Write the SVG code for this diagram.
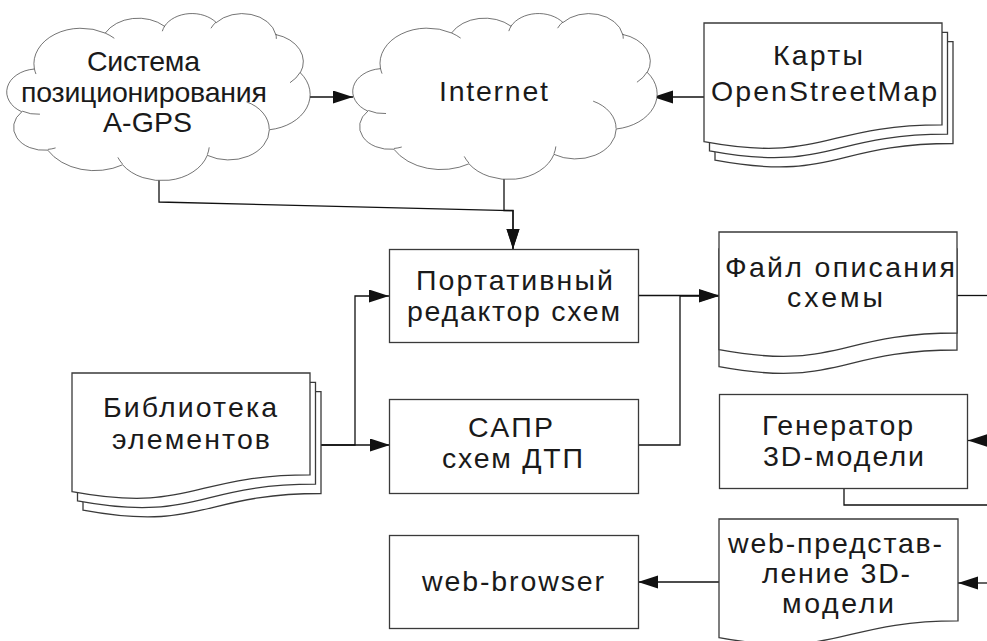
<svg xmlns="http://www.w3.org/2000/svg" xmlns:xlink="http://www.w3.org/1999/xlink" width="987" height="641" viewBox="0 0 987 641">
  <style>
    .shape { fill: #ffffff; stroke: #3a3a3a; stroke-width: 1.3; }
    .inner { fill: none; stroke: #3a3a3a; stroke-width: 1.3; }
    .cloud path { vector-effect: non-scaling-stroke; }
    .link { fill: none; stroke: #111111; stroke-width: 1.3; }
    .arrow { marker-end: url(#head); }
    text { font-family: "Liberation Sans", Arial, sans-serif; font-size: 28.5px; fill: #1a1a1a; text-anchor: middle; }
  </style>
  <defs>
    <marker id="head" markerUnits="userSpaceOnUse" markerWidth="21" markerHeight="14" refX="20" refY="6.5" orient="auto">
      <path d="M0,0 L20,6.5 L0,13 Z" fill="#111111"/>
    </marker>
    <!-- cloud outline on a 432 x 432 grid -->
    <path id="cloud-outline" d="M39.00,143.70 A67.53,91.90 0 0 1 140.05,52.03 A53.33,72.67 0 0 1 224.57,34.31 A43.65,59.45 0 0 1 298.35,24.80 A48.57,65.95 0 0 1 383.19,55.76 A53.33,72.73 0 0 1 418.20,154.60 A67.75,92.20 0 0 1 374.05,302.03 A57.85,78.67 0 0 1 285.56,368.13 A67.52,92.15 0 0 1 164.82,392.67 A77.20,105.43 0 0 1 58.05,354.72 A43.60,59.18 0 0 1 21.14,255.50 A43.45,59.45 0 0 1 38.62,145.05 Z"/>
    <path id="cloud-creases" d="M46.93,261.77 A43.45,59.45 0 0 1 21.61,253.81 M69.28,348.99 A43.60,59.18 0 0 1 58.20,352.80 M164.78,390.90 A67.52,92.15 0 0 1 158.09,373.47 M288.27,347.51 A67.52,92.15 0 0 1 285.61,366.60 M341.29,229.54 A57.85,78.67 0 0 1 373.81,300.90 M417.98,153.54 A53.33,72.73 0 0 1 403.50,180.30 M383.24,54.26 A48.57,65.95 0 0 1 384.00,66.90 M290.78,39.52 A48.57,65.95 0 0 1 298.21,23.38 M221.41,47.20 A43.65,59.45 0 0 1 225.00,33.31 M140.00,51.92 A67.53,91.90 0 0 1 152.99,65.40 M41.27,157.89 A67.53,91.90 0 0 1 39.00,143.71"/>
  </defs>

  <!-- connectors -->
  <g id="connectors">
    <path class="link arrow" d="M310,97 H353"/>
    <path class="link arrow" d="M704,97 H653"/>
    <path class="link arrow" d="M159,180 V202 L513,210.7 V249"/>
    <path class="link arrow" d="M504,178 V210.5 H513 V249"/>
    <path class="link arrow" d="M321,445 H355 V296 H389"/>
    <path class="link arrow" d="M321,445 H390"/>
    <path class="link arrow" d="M638,295.5 H719"/>
    <path class="link arrow" d="M638,445 H680 V296 H719"/>
    <path class="link" d="M957,295.5 H987"/>
    <path class="link arrow" d="M987,440.5 H968"/>
    <path class="link" d="M844,488 V505 H987"/>
    <path class="link arrow" d="M987,583 H958"/>
    <path class="link arrow" d="M719,582 H638"/>
  </g>

  <!-- cloud: positioning system -->
  <g id="agps" class="cloud">
    <g transform="translate(7,13) scale(0.7014,0.3866)">
      <use xlink:href="#cloud-outline" class="shape"/>
      <use xlink:href="#cloud-creases" class="inner"/>
    </g>
    <text x="143.5" y="71" textLength="113" lengthAdjust="spacing">Система</text>
    <text x="144" y="101.5" textLength="246" lengthAdjust="spacing">позиционирования</text>
    <text x="147.5" y="132" textLength="89" lengthAdjust="spacing">A-GPS</text>
  </g>

  <!-- cloud: internet -->
  <g id="internet" class="cloud">
    <g transform="translate(353,13) scale(0.7037,0.3840)">
      <use xlink:href="#cloud-outline" class="shape"/>
      <use xlink:href="#cloud-creases" class="inner"/>
    </g>
    <text x="493.5" y="101" textLength="109" lengthAdjust="spacing">Internet</text>
  </g>

  <!-- stacked documents: OpenStreetMap maps -->
  <g id="osm-maps">
    <path class="shape" d="M715,41.6 H953 V143.5 C834,143.5 834,182.2 715,160.2 Z"/>
    <path class="shape" d="M709.5,32.3 H947.5 V134.2 C828.5,134.2 828.5,172.9 709.5,150.9 Z"/>
    <path class="shape" d="M704,23 H942 V124.9 C823,124.9 823,163.6 704,141.6 Z"/>
    <text x="818" y="65" textLength="90" lengthAdjust="spacing">Карты</text>
    <text x="824" y="101" textLength="226" lengthAdjust="spacing">OpenStreetMap</text>
  </g>

  <!-- portable editor -->
  <g id="editor">
    <rect class="shape" x="389.5" y="249.5" width="249" height="93"/>
    <text x="514.5" y="290" textLength="197" lengthAdjust="spacing">Портативный</text>
    <text x="513.5" y="321" textLength="213" lengthAdjust="spacing">редактор схем</text>
  </g>

  <!-- CAD -->
  <g id="cad">
    <rect class="shape" x="389.5" y="399.5" width="249" height="94"/>
    <text x="510.5" y="437" textLength="85" lengthAdjust="spacing">САПР</text>
    <text x="512.5" y="468" textLength="141" lengthAdjust="spacing">схем ДТП</text>
  </g>

  <!-- element library -->
  <g id="library">
    <path class="shape" d="M83,391.6 H321 V493.5 C202,493.5 202,532.2 83,510.2 Z"/>
    <path class="shape" d="M77.5,382.3 H315.5 V484.2 C196.5,484.2 196.5,522.9 77.5,500.9 Z"/>
    <path class="shape" d="M72,373 H310 V474.9 C191,474.9 191,513.6 72,491.6 Z"/>
    <text x="190" y="417" textLength="174" lengthAdjust="spacing">Библиотека</text>
    <text x="191" y="449" textLength="158" lengthAdjust="spacing">элементов</text>
  </g>

  <!-- scheme description file -->
  <g id="scheme-file">
    <path class="shape" d="M719,249 H957 V350 C838,350 838,388.5 719,366.7 Z"/>
    <path class="shape" d="M719,232 H957 V333 C838,333 838,371.5 719,349.7 Z"/>
    <text x="840" y="277" textLength="230" lengthAdjust="spacing">Файл описания</text>
    <text x="835" y="307" textLength="96" lengthAdjust="spacing">схемы</text>
  </g>

  <!-- 3D model generator -->
  <g id="generator">
    <rect class="shape" x="719.5" y="394.5" width="248" height="94"/>
    <text x="837.5" y="435" textLength="151" lengthAdjust="spacing">Генератор</text>
    <text x="843.5" y="466" textLength="161" lengthAdjust="spacing">3D-модели</text>
  </g>

  <!-- web representation of the 3D model -->
  <g id="web-model">
    <path class="shape" d="M719,519 H958 V620.9 C838.5,620.9 838.5,659.6 719,637.6 Z"/>
    <text x="835" y="553" textLength="214" lengthAdjust="spacing">web-представ-</text>
    <text x="836" y="583" textLength="148" lengthAdjust="spacing">ление 3D-</text>
    <text x="838" y="613" textLength="112" lengthAdjust="spacing">модели</text>
  </g>

  <!-- browser -->
  <g id="browser">
    <rect class="shape" x="389.5" y="535.5" width="249" height="93"/>
    <text x="513" y="591" textLength="182" lengthAdjust="spacing">web-browser</text>
  </g>
</svg>
